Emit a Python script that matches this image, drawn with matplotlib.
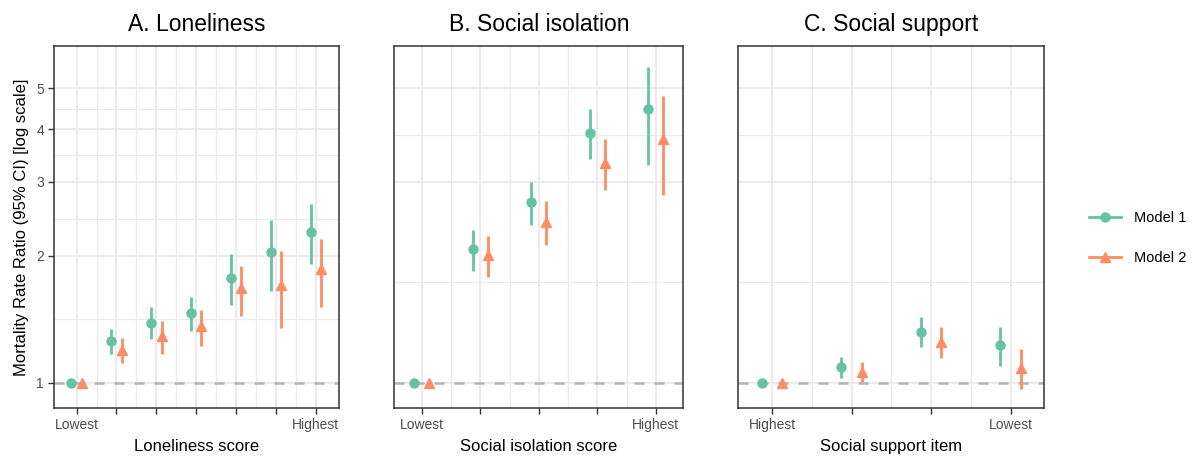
import numpy as np
import matplotlib.pyplot as plt
from matplotlib.lines import Line2D

plt.rcParams['font.family'] = ['Liberation Sans', 'DejaVu Sans']

# Panel A: loneliness score (7 levels)
lon_m1 = [1.0, 1.256, 1.388, 1.461, 1.776, 2.04, 2.285]
lon_m1_lo = [1.0, 1.17, 1.267, 1.329, 1.527, 1.651, 1.914]
lon_m1_hi = [1.0, 1.339, 1.512, 1.598, 2.025, 2.43, 2.658]
lon_m2 = [1.0, 1.196, 1.291, 1.363, 1.675, 1.706, 1.858]
lon_m2_lo = [1.0, 1.116, 1.17, 1.224, 1.44, 1.346, 1.515]
lon_m2_hi = [1.0, 1.274, 1.404, 1.488, 1.893, 2.054, 2.19]

# Panel B: social isolation score (5 levels)
iso_m1 = [1.0, 2.073, 2.682, 3.925, 4.46]
iso_m1_lo = [1.0, 1.845, 2.369, 3.405, 3.289]
iso_m1_hi = [1.0, 2.305, 2.99, 4.46, 5.63]
iso_m2 = [1.0, 2.01, 2.412, 3.33, 3.79]
iso_m2_lo = [1.0, 1.782, 2.127, 2.869, 2.79]
iso_m2_hi = [1.0, 2.23, 2.70, 3.784, 4.80]

# Panel C: social support item (4 levels)
sup_m1 = [1.0, 1.089, 1.322, 1.229]
sup_m1_lo = [1.0, 1.028, 1.213, 1.097]
sup_m1_hi = [1.0, 1.153, 1.435, 1.359]
sup_m2 = [1.0, 1.062, 1.251, 1.081]
sup_m2_lo = [1.0, 1.005, 1.147, 0.964]
sup_m2_hi = [1.0, 1.122, 1.359, 1.202]

titles = ['A. Loneliness', 'B. Social isolation', 'C. Social support']
xlabels = ['Loneliness score', 'Social isolation score', 'Social support item']
end_labels = [('Lowest', 'Highest'), ('Lowest', 'Highest'), ('Highest', 'Lowest')]
model_names = ['Model 1', 'Model 2']

GREEN = '#66C2A5'
ORANGE = '#FC8D62'
W, H = 1192, 462

fig = plt.figure(figsize=(W / 100, H / 100), dpi=100)

# axes boxes in pixels: left, right, top, bottom
boxes = [(54.3, 339.3, 46, 408), (394.3, 683.3, 46, 408), (738.3, 1044, 46, 408)]
xlims = [(0.44, 7.59), (0.53, 5.47), (0.577, 4.418)]
ymajor = [[1, 2, 3, 4, 5], [1, 3, 5], [1, 3, 5]]

panels = [
    (lon_m1, lon_m1_lo, lon_m1_hi, lon_m2, lon_m2_lo, lon_m2_hi),
    (iso_m1, iso_m1_lo, iso_m1_hi, iso_m2, iso_m2_lo, iso_m2_hi),
    (sup_m1, sup_m1_lo, sup_m1_hi, sup_m2, sup_m2_lo, sup_m2_hi),
]

dodge = 0.13
for i, (data, box) in enumerate(zip(panels, boxes)):
    l, r, t, b = box
    ax = fig.add_axes([l / W, 1 - b / H, (r - l) / W, (b - t) / H])
    m1, m1lo, m1hi, m2, m2lo, m2hi = data
    n = len(m1)
    x = np.arange(1, n + 1)

    ax.set_yscale('log')
    ax.set_ylim(0.871, 6.3)
    ax.set_xlim(*xlims[i])

    # grid
    maj = ymajor[i]
    minr = [np.sqrt(a * c) for a, c in zip(maj[:-1], maj[1:])]
    for v in maj:
        ax.axhline(v, color='#EBEBEB', lw=1.5, zorder=0)
    for v in minr:
        ax.axhline(v, color='#EBEBEB', lw=0.9, zorder=0)
    for v in x:
        ax.axvline(v, color='#EBEBEB', lw=1.5, zorder=0)
    for v in x[:-1] + 0.5:
        ax.axvline(v, color='#EBEBEB', lw=0.9, zorder=0)

    ax.axhline(1, color='#B3B3B3', lw=1.8, ls=(0, (4, 4)), zorder=1)

    ax.vlines(x - dodge, m1lo, m1hi, color=GREEN, lw=2, zorder=2)
    ax.plot(x - dodge, m1, 'o', color=GREEN, ms=6.5, zorder=3)
    ax.vlines(x + dodge, m2lo, m2hi, color=ORANGE, lw=2, zorder=2)
    ax.plot(x + dodge, m2, '^', color=ORANGE, ms=7.5, zorder=3)

    ax.set_xticks(x)
    labs = [''] * n
    labs[0], labs[-1] = end_labels[i]
    ax.set_xticklabels(labs)
    ax.minorticks_off()
    ax.tick_params(axis='x', length=4, width=1, color='#333333', labelsize=10,
                   labelcolor='#4D4D4D', pad=3)
    if i == 0:
        ax.set_yticks([1, 2, 3, 4, 5])
        ax.set_yticklabels(['1', '2', '3', '4', '5'])
        ax.tick_params(axis='y', length=4, width=1, color='#333333', labelsize=10,
                       labelcolor='#4D4D4D')
        ax.set_ylabel('Mortality Rate Ratio (95% CI) [log scale]', fontsize=12,
                      labelpad=5)
    else:
        ax.set_yticks([])
    ax.minorticks_off()

    for s in ax.spines.values():
        s.set_color('#333333')
        s.set_linewidth(1.1)

    ax.set_xlabel(xlabels[i], fontsize=12, labelpad=5)
    ax.set_title(titles[i], fontsize=16.5, pad=11)

handles = [
    Line2D([0], [0], color=GREEN, lw=2, marker='o', ms=6.5),
    Line2D([0], [0], color=ORANGE, lw=2, marker='^', ms=7.5),
]
fig.legend(handles, model_names, loc='center left', bbox_to_anchor=(1076 / W, 1 - 238 / H),
           frameon=False, fontsize=10.5, handlelength=2.2, labelspacing=1.75,
           handletextpad=0.9)

fig.savefig('out.png', dpi=100)
